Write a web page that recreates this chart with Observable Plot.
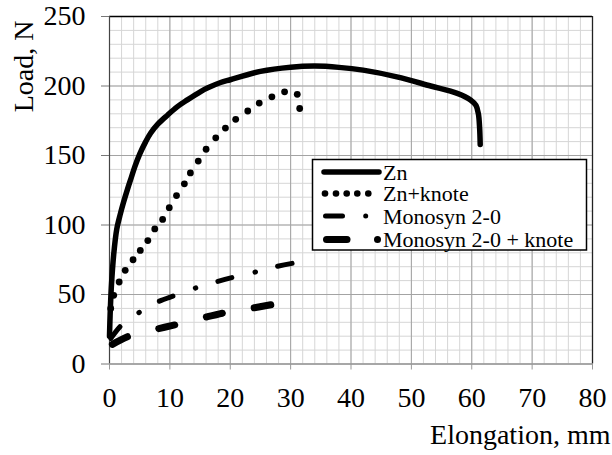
<!DOCTYPE html>
<html>
<head>
<meta charset="utf-8">
<script src="https://cdn.jsdelivr.net/npm/d3@7"></script>
<script src="https://cdn.jsdelivr.net/npm/@observablehq/plot@0.6"></script>
<style>
  body { margin: 0; background: #fff; }
  #chart { width: 612px; height: 455px; }
</style>
</head>
<body>
<div id="chart"></div>
<script>
// ---- data ----
const xTicks = [0, 10, 20, 30, 40, 50, 60, 70, 80];
const yTicks = [0, 50, 100, 150, 200, 250];
const xMinor = d3.range(0, 81, 2);
const yMinor = d3.range(0, 251, 10);
const xLabel = "Elongation, mm";
const yLabel = "Load, N";
const seriesNames = ["Zn", "Zn+knote", "Monosyn 2-0", "Monosyn 2-0 + knote"];

const znX = [0, 0.1, 0.3, 0.7, 1.2, 1.8, 2.3, 3.0, 3.6, 4.2, 5.0, 6.0, 6.8, 8.0, 9.6, 11.2, 12.9, 15.1, 16.2, 18.4, 20, 25, 30, 34, 38, 42, 47.6, 53.2, 57.6, 59.8, 60.7, 61.1, 61.3, 61.4];
const znY = [20, 35, 55, 79, 97, 108, 116, 126, 134, 142, 151, 160, 166, 172.5, 179, 185, 190, 196, 198.5, 202.5, 204.5, 210.5, 213.5, 214.3, 213.4, 211.4, 206.6, 200, 194.7, 190, 186, 180, 170, 158];

const znKnoteX = [0.2, 0.7, 1.6, 2.6, 3.9, 5.1, 6.35, 7.5, 8.8, 9.9, 11.1, 12.4, 13.4, 14.7, 16.0, 17.6, 19.2, 20.9, 22.9, 24.8, 26.9, 29.0, 31.1, 31.5];
const znKnoteY = [40, 49.4, 59, 67.4, 75, 81.7, 88.8, 97.2, 104, 112.5, 121.2, 129.6, 137.5, 146, 154.5, 162.7, 169.7, 176, 182, 187.7, 192.2, 195.8, 194, 183.8];

const monoX = [0, 2, 4.9, 7.9, 10.9, 14.2, 17.6, 20.6, 24, 27.2, 30.5];
const monoY = [17, 28, 37, 44.5, 49.4, 54.6, 59, 62.5, 66, 69.7, 72.6];

const monoKnoteX = [0, 3.2, 7.3, 11.1, 15.3, 19.2, 23.4, 27.2];
const monoKnoteY = [13, 20, 24.6, 28.4, 33, 37, 40, 43];

const toRows = (xs, ys) => xs.map((x, i) => ({x, y: ys[i]}));
const zn = toRows(znX, znY);
const znKnote = toRows(znKnoteX, znKnoteY);
const mono = toRows(monoX, monoY);
const monoKnote = toRows(monoKnoteX, monoKnoteY);

const FONT = "'Liberation Serif', 'Times New Roman', serif";

const svg = Plot.plot({
  width: 612,
  height: 455,
  marginLeft: 109,
  marginRight: 20,
  marginTop: 16,
  marginBottom: 91.5,
  x: {domain: [0, 80]},
  y: {domain: [0, 250]},
  style: {background: "white", fontFamily: FONT, fontSize: "28px", color: "#000", overflow: "visible"},
  marks: [
    Plot.gridX(xMinor, {stroke: "#d6d6d6", strokeOpacity: 1, strokeWidth: 1}),
    Plot.gridY(yMinor, {stroke: "#d6d6d6", strokeOpacity: 1, strokeWidth: 1}),
    Plot.gridX(xTicks, {stroke: "#a3a3a3", strokeOpacity: 1, strokeWidth: 1}),
    Plot.gridY(yTicks, {stroke: "#a3a3a3", strokeOpacity: 1, strokeWidth: 1}),
    Plot.ruleY([250], {stroke: "#000", strokeWidth: 1.3}),
    Plot.ruleX([80], {stroke: "#222", strokeWidth: 1.3}),
    Plot.ruleX([0], {stroke: "#444", strokeWidth: 1.2}),
    Plot.ruleY([0], {stroke: "#888", strokeWidth: 1.2}),
    Plot.axisX(xTicks, {tickSize: 6, tickPadding: 17, stroke: "#999", fill: "#000", label: null, fontSize: 28}),
    Plot.axisY(yTicks, {tickSize: 8, tickPadding: 16, stroke: "#777", fill: "#000", label: null, fontSize: 28}),
    Plot.text([xLabel], {frameAnchor: "bottom-right", textAnchor: "end", lineAnchor: "bottom", dx: 18, dy: 79.5, fontSize: 28, fill: "#000"}),
    Plot.text([yLabel], {frameAnchor: "top-left", rotate: -90, textAnchor: "end", lineAnchor: "middle", dx: -85.5, dy: 4, fontSize: 28, fill: "#000"}),
    // Monosyn 2-0 + knote : long thick dashes
    Plot.line(monoKnote, {x: "x", y: "y", stroke: "#000", strokeWidth: 7, strokeLinecap: "round", strokeDasharray: "16.5,32.5", strokeDashoffset: 45.5, curve: "catmull-rom"}),
    // Monosyn 2-0 : dash-dot
    Plot.line(mono, {x: "x", y: "y", stroke: "#000", strokeWidth: 5, strokeLinecap: "round", strokeDasharray: "14.5,23.8,0.5,23", strokeDashoffset: 59.3, curve: "catmull-rom"}),
    // Zn+knote : dots
    Plot.dot(znKnote, {x: "x", y: "y", r: 3.4, fill: "#000", stroke: null}),
    // Zn : solid
    Plot.line(zn, {x: "x", y: "y", stroke: "#000", strokeWidth: 5.5, strokeLinecap: "round", strokeLinejoin: "round", curve: "catmull-rom"})
  ]
});

// ---- legend box (drawn inside the plot area, top right) ----
const lg = d3.select(svg).append("g")
  .attr("font-family", FONT).attr("font-size", 22).attr("text-anchor", "start");
lg.append("rect").attr("x", 312.5).attr("y", 159.5).attr("width", 274).attr("height", 90.5)
  .attr("fill", "#fff").attr("stroke", "#000").attr("stroke-width", 1.5);
const rowY = [172, 193.5, 216, 239.5];
const textX = [383, 383, 383, 383];
// Zn sample
lg.append("line").attr("x1", 324).attr("x2", 379).attr("y1", rowY[0]).attr("y2", rowY[0])
  .attr("stroke", "#000").attr("stroke-width", 5.5).attr("stroke-linecap", "round");
// Zn+knote sample
[325, 336, 346.7, 357.3, 368.3].forEach(cx => lg.append("circle").attr("cx", cx).attr("cy", rowY[1]).attr("r", 3.3).attr("fill", "#000"));
// Monosyn 2-0 sample
lg.append("line").attr("x1", 325.5).attr("x2", 342.5).attr("y1", rowY[2]).attr("y2", rowY[2])
  .attr("stroke", "#000").attr("stroke-width", 5).attr("stroke-linecap", "round");
lg.append("circle").attr("cx", 365.7).attr("cy", rowY[2]).attr("r", 2.5).attr("fill", "#000");
// Monosyn 2-0 + knote sample
lg.append("line").attr("x1", 326.5).attr("x2", 347).attr("y1", rowY[3]).attr("y2", rowY[3])
  .attr("stroke", "#000").attr("stroke-width", 7).attr("stroke-linecap", "round");
lg.append("circle").attr("cx", 377.5).attr("cy", rowY[3]).attr("r", 3.5).attr("fill", "#000");
seriesNames.forEach((name, i) => {
  lg.append("text").attr("x", textX[i]).attr("y", rowY[i] + 7.5).attr("fill", "#000")
    .style("text-anchor", "start").text(name);
});

document.getElementById("chart").append(svg);
</script>
</body>
</html>
